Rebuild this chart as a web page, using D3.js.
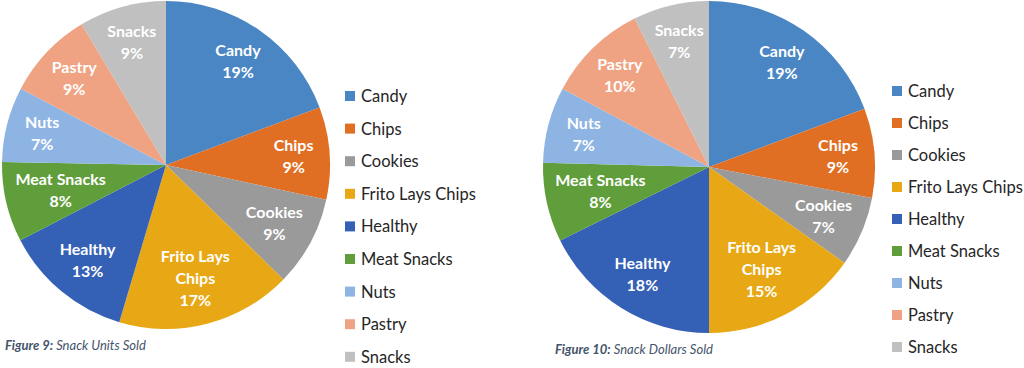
<!DOCTYPE html>
<html>
<head>
    <meta charset="utf-8" />
    <title>Snack sales</title>
    <script src="https://cdn.jsdelivr.net/npm/d3@7"></script>
    <style>
        body { margin: 0; background: #fff; }
        svg text { font-family: Lato, "Open Sans", sans-serif; }
        .slice-label { fill: #fff; font-weight: bold; font-size: 16px; }
        .legend text { fill: #262626; font-size: 16.5px; }
        .caption { fill: #44546a; font-size: 13px; font-style: italic; }
    </style>
</head>
<body>
    <svg width="1024" height="368"></svg>
    <script>
        var categories = ['Candy', 'Chips', 'Cookies', 'Frito Lays Chips', 'Healthy',
            'Meat Snacks', 'Nuts', 'Pastry', 'Snacks'];
        // share of units / dollars, in percent
        var unitsSold = [19.3, 9.1, 8.9, 17.3, 12.8, 7.9, 7.4, 8.7, 8.6];
        var dollarsSold = [19.3, 8.7, 6.8, 15.2, 17.7, 7.7, 7.4, 9.8, 7.4];
        var colors = ['#4a86c4', '#e06f24', '#9a9a9a', '#e8a815', '#3460b5',
            '#5f9e3a', '#8db4e2', '#f0a383', '#c0c0c0'];

        var svg = d3.select('svg');
        var color = d3.scaleOrdinal().domain(categories).range(colors);

        function labelLines(name) {
            // office wraps the long name onto two lines
            if (name === 'Frito Lays Chips') return ['Frito Lays', 'Chips'];
            return [name];
        }

        function drawPie(values, cx, cy, r, legendX, legendY, legendStep, figNo, title, capX, capY) {
            var total = d3.sum(values);
            var data = categories.map(function (c, i) { return { name: c, value: values[i] }; });
            var pie = d3.pie().sort(null).value(function (d) { return d.value; });
            var arc = d3.arc().innerRadius(0).outerRadius(r);

            var g = svg.append('g').attr('transform', 'translate(' + cx + ',' + cy + ')');
            var arcs = pie(data);

            g.selectAll('path').data(arcs).enter().append('path')
                .attr('d', arc)
                .attr('fill', function (d) { return color(d.data.name); });

            var labels = g.selectAll('text').data(arcs).enter().append('text')
                .attr('class', 'slice-label')
                .attr('text-anchor', 'middle');

            labels.each(function (d) {
                var lines = labelLines(d.data.name).concat([Math.round(d.data.value / total * 100) + '%']);
                var t = d3.select(this);
                var lh = 22;
                lines.forEach(function (line, i) {
                    t.append('tspan')
                        .attr('x', 0)
                        .attr('y', -(lines.length - 1) * lh / 2 + i * lh + 6)
                        .text(line);
                });
                // best fit: start at 78% of radius, pull inward until the box is inside the circle
                var box = this.getBBox();
                var k = 0.78;
                for (; k > 0.3; k -= 0.01) {
                    var p = d3.arc().innerRadius(r * k).outerRadius(r * k).centroid(d);
                    var corners = [[box.x, box.y], [box.x + box.width, box.y],
                        [box.x, box.y + box.height], [box.x + box.width, box.y + box.height]];
                    var ok = corners.every(function (c) {
                        return Math.hypot(p[0] + c[0], p[1] + c[1]) < r - 6;
                    });
                    if (ok) break;
                }
                var pos = d3.arc().innerRadius(r * k).outerRadius(r * k).centroid(d);
                t.attr('transform', 'translate(' + pos + ')');
            });

            var legend = svg.append('g').attr('class', 'legend')
                .selectAll('g').data(categories).enter().append('g')
                .attr('transform', function (d, i) { return 'translate(' + legendX + ',' + (legendY + i * legendStep) + ')'; });
            legend.append('rect')
                .attr('x', 0).attr('y', -5)
                .attr('width', 10).attr('height', 10)
                .attr('fill', function (d) { return color(d); });
            legend.append('text')
                .attr('x', 16).attr('y', 6)
                .text(function (d) { return d; });

            var cap = svg.append('text').attr('class', 'caption')
                .attr('x', capX).attr('y', capY);
            cap.append('tspan').attr('font-weight', 'bold').text('Figure ' + figNo + ':');
            cap.append('tspan').text(' ' + title);
        }

        drawPie(unitsSold, 166, 165, 164, 345, 96, 32.6, 9, 'Snack Units Sold', 5, 350);
        drawPie(dollarsSold, 709, 167, 166, 892, 91, 32, 10, 'Snack Dollars Sold', 555, 354);
    </script>
</body>
</html>
